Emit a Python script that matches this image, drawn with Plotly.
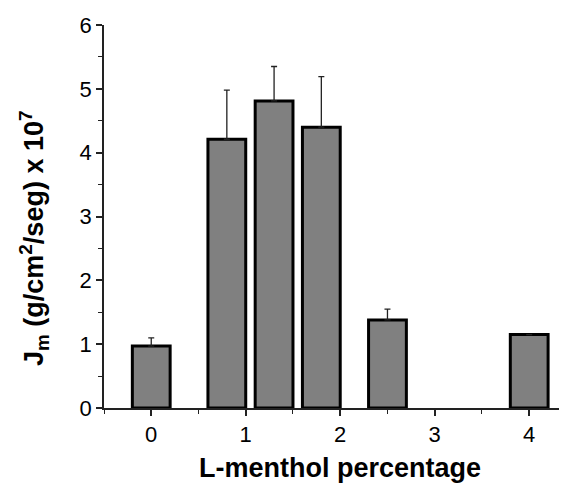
import plotly.graph_objects as go

x_pos = [0, 0.8, 1.3, 1.8, 2.5, 4.0]
values = [0.97, 4.21, 4.81, 4.40, 1.38, 1.15]
err_up = [0.13, 0.77, 0.54, 0.79, 0.17, None]
x_ticks = [0, 1, 2, 3, 4]
y_ticks = [0, 1, 2, 3, 4, 5, 6]

fig = go.Figure()
fig.add_trace(go.Bar(
    x=x_pos, y=values, width=[0.4] * len(x_pos),
    marker=dict(color="#808080", line=dict(color="black", width=3)),
    error_y=dict(type="data", array=err_up, arrayminus=[0] * len(x_pos), symmetric=False,
                 color="#222", thickness=1.3, width=3),
))

font_fam = "Liberation Sans, Arial, sans-serif"
OFF = 8  # page body margin offset
W, H = 567 - OFF, 483 - OFF
L, R, T, B = 104 - OFF, 0, 25 - OFF, 75
pw, ph = W - L - R, H - T - B

fig.update_layout(
    width=W, height=H,
    margin=dict(l=L, r=R, t=T, b=B),
    plot_bgcolor="white", paper_bgcolor="white",
    showlegend=False,
    font=dict(family=font_fam, color="black", size=22),
)
axis_common = dict(
    showline=True, linecolor="#222", linewidth=1.5, showgrid=False, zeroline=False,
    ticks="outside", ticklen=6, tickwidth=1.5, tickcolor="#222",
    tickfont_size=22, tickfont_color="black",
    automargin=False,
)
fig.update_xaxes(range=[-0.5, 4.4], tickmode="array", tickvals=x_ticks,
                 ticktext=[str(v) for v in x_ticks],
                 minor=dict(ticks="outside", dtick=0.5, tick0=0, ticklen=4, tickwidth=1.2, tickcolor="#222"),
                 **axis_common)
fig.update_yaxes(range=[0, 6], tickmode="array", tickvals=y_ticks,
                 ticktext=[str(v) for v in y_ticks],
                 minor=dict(ticks="outside", dtick=0.5, tick0=0, ticklen=4, tickwidth=1.2, tickcolor="#222"),
                 **axis_common)

# positions in window pixels (reference), converted to figure pixels
def px_to_paper(xw, yw):
    xf, yf = xw - OFF, yw - OFF
    return (xf - L) / pw, (H - B - yf) / ph

xt, yt = px_to_paper(340, 468)
fig.add_annotation(text="<b>L-menthol percentage</b>", xref="paper", yref="paper",
                   x=xt, y=yt, xanchor="center", yanchor="middle",
                   showarrow=False, font=dict(size=27, family=font_fam, color="black"))
xt, yt = px_to_paper(34, 239)
fig.add_annotation(text="<b>J<sub>m</sub> (g/cm<sup>2</sup>/seg) x 10<sup>7</sup></b>",
                   xref="paper", yref="paper",
                   x=xt, y=yt, xanchor="center", yanchor="middle",
                   textangle=-90, showarrow=False,
                   font=dict(size=27, family=font_fam, color="black"))

fig.write_html("out.html")
